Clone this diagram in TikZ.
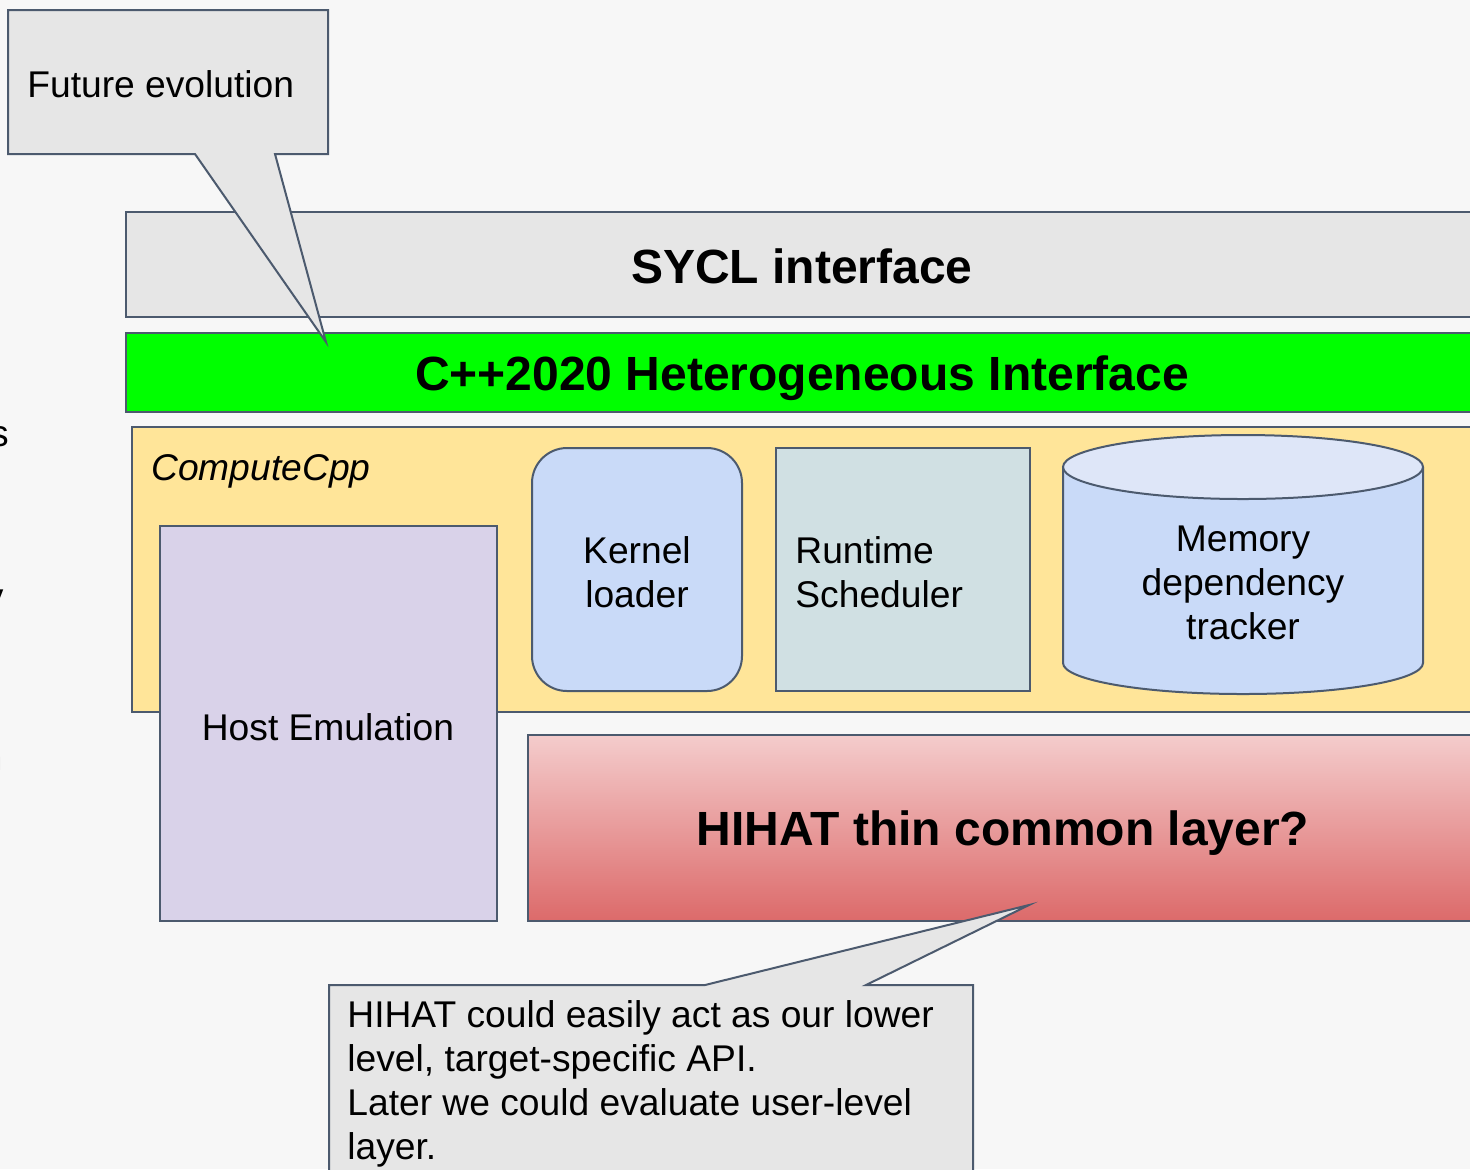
\documentclass[tikz,border=0pt]{standalone}
\usepackage{fontspec}
\setmainfont{Liberation Sans}
\definecolor{bgc}{HTML}{F7F7F7}
\definecolor{edgec}{HTML}{4C5A6E}
\definecolor{notec}{HTML}{E6E6E6}
\definecolor{syclc}{HTML}{E6E6E6}
\definecolor{greenc}{HTML}{00FF00}
\definecolor{computec}{HTML}{FFE599}
\definecolor{hostc}{HTML}{D9D2E9}
\definecolor{kernelc}{HTML}{C9DAF8}
\definecolor{runtimec}{HTML}{D0E0E3}
\definecolor{memtopc}{HTML}{DEE6F8}
\definecolor{hihattopc}{HTML}{F4CCCC}
\definecolor{hihatbotc}{HTML}{DC6A6A}
\tikzset{
	box/.style={draw=edgec, line width=1pt},
	txt/.style={inner sep=0pt, align=center, font=\fontsize{18.6}{22}\selectfont},
	bigtxt/.style={inner sep=0pt, font=\fontsize{24}{29}\selectfont\bfseries},
}

\begin{document}
\begin{tikzpicture}[x=0.5pt, y=-0.5pt]
			%%%%% START %%%%%
			\useasboundingbox (0,0) rectangle (1470,1169);
			\fill[bgc] (0,0) rectangle (1470,1169);
			
			% cut-off text at the left edge
			\node[txt, anchor=base east] (cuts) at (9,446) {s};
			\node[txt, anchor=base east] (cute) at (2,565) {e};
			\node[txt, anchor=base east] (cuty) at (4,609) {y};
			\node[txt, anchor=base east] (cutn) at (3,770) {n};
			
			% interface layers
			\draw[box, fill=syclc] (126,212) rectangle (1490,317);
			\node[bigtxt] (sycl) at (802,266) {SYCL interface};
			
			\draw[box, fill=greenc] (126,333) rectangle (1490,412);
			\node[bigtxt] (cpp) at (802,378) {C++2020 Heterogeneous Interface};
			
			\coordinate (evotip) at (326,342);
			\draw[box, fill=notec] (8,10) -- (328,10) -- (328,154) -- (275,154) -- (evotip) -- (195,154) -- (8,154) -- cycle;
			\node[txt, anchor=west] (evo) at (27,84) {Future evolution};
			
			% ComputeCpp
			\draw[box, fill=computec] (132,427) rectangle (1490,712);
			\node[txt, anchor=west, font=\fontsize{18.6}{22}\selectfont\itshape] (compute) at (151,471) {ComputeCpp};
			
			\draw[box, fill=hostc] (160,526) rectangle (497,921);
			\node[txt] (host) at (328,727) {Host Emulation};
			
			\draw[box, fill=kernelc, rounded corners=17.5pt] (532,448) rectangle (742,691);
			\node[txt] (kernel) at (637,572) {Kernel\\loader};
			
			\draw[box, fill=runtimec] (776,448) rectangle (1030,691);
			\node[txt, anchor=west, align=left] (runtime) at (795,572) {Runtime\\Scheduler};
			
			\draw[box, fill=kernelc] (1063,467) -- (1063,663) arc[start angle=180, end angle=360, x radius=90pt, y radius=15.5pt] -- (1423,467);
			\draw[box, fill=memtopc] (1243,467) ellipse [x radius=90pt, y radius=16pt];
			\node[txt] (memory) at (1243,583) {Memory\\dependency\\tracker};
			
			% HIHAT
			\draw[box, top color=hihattopc, bottom color=hihatbotc] (528,735) rectangle (1490,921);
			\node[bigtxt] (hihat) at (1003,833) {HIHAT thin common layer?};
			
			\coordinate (hihattip) at (1029,905);
			\draw[box, fill=notec] (329,1190) -- (329,985) -- (705,985) -- (hihattip) -- (866,985) -- (973,985) -- (973,1190) -- cycle;
			\node[txt, anchor=north west, align=left] (note) at (347,1000) {HIHAT could easily act as our lower\\level, target-specific API.\\Later we could evaluate user-level\\layer.};
			
			%%%%% END %%%%%
\end{tikzpicture}
\end{document}
